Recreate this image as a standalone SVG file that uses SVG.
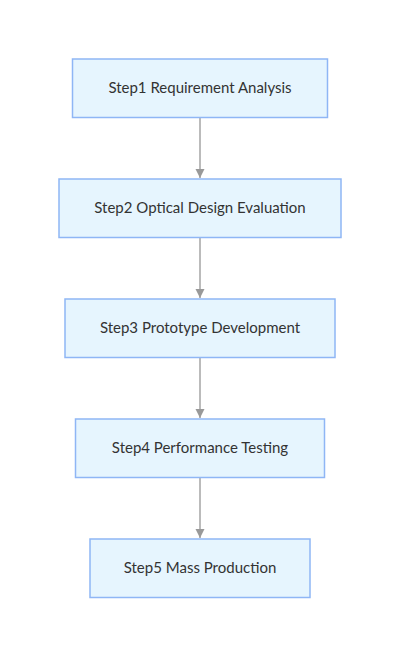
<svg xmlns="http://www.w3.org/2000/svg" width="400" height="657" viewBox="0 0 400 657">
<defs>
<marker id="arrow" viewBox="0 0 10 10" refX="10" refY="5" markerWidth="9" markerHeight="10" markerUnits="userSpaceOnUse" orient="auto">
<path d="M0,0 L10,5 L0,10 z" fill="#999"/>
</marker>
<style>
.node rect{fill:#e6f5fe;stroke:#8fb6f5;stroke-width:1.5}
.node text{font-family:"Lato","Open Sans",sans-serif;font-size:15px;fill:#333;text-anchor:middle;dominant-baseline:central}
.edge{stroke:#bbb;stroke-width:2;fill:none}
</style>
</defs>
<rect width="400" height="657" fill="#fff"/>
<g id="connectors">
<path class="edge" d="M200,118 V178" marker-end="url(#arrow)"/>
<path class="edge" d="M200,238 V298" marker-end="url(#arrow)"/>
<path class="edge" d="M200,358 V418" marker-end="url(#arrow)"/>
<path class="edge" d="M200,478 V538" marker-end="url(#arrow)"/>
</g>
<g id="step1" class="node"><rect x="72.5" y="59" width="255" height="58.5"/><text x="200" y="87">Step1 Requirement Analysis</text></g>
<g id="step2" class="node"><rect x="59" y="179" width="282" height="58.5"/><text x="200" y="207">Step2 Optical Design Evaluation</text></g>
<g id="step3" class="node"><rect x="65" y="299" width="270" height="58.5"/><text x="200" y="327">Step3 Prototype Development</text></g>
<g id="step4" class="node"><rect x="75.5" y="419" width="249" height="58.5"/><text x="200" y="447">Step4 Performance Testing</text></g>
<g id="step5" class="node"><rect x="90" y="539" width="220" height="58.5"/><text x="200" y="567">Step5 Mass Production</text></g>
</svg>
